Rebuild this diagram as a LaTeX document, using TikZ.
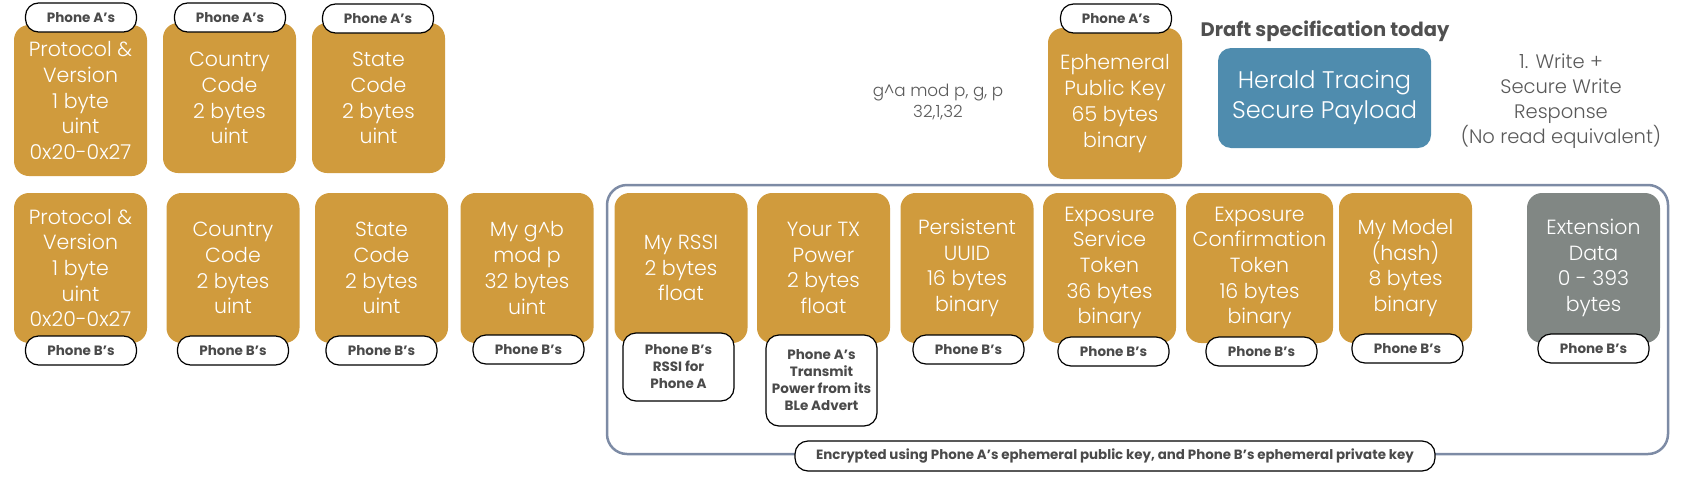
\documentclass[tikz,border=0pt]{standalone}
\usepackage{fontspec}
\setmainfont{Poppins}
\newfontfamily\lightfont{Poppins Light}
\usepackage{xcolor}
\definecolor{vgold}{HTML}{D09B3D}
\definecolor{vblue}{HTML}{4F8CAE}
\definecolor{vgrey}{HTML}{818784}
\definecolor{vslate}{HTML}{7D8BA5}
\definecolor{vdarkgray}{HTML}{4A4A4A}
\definecolor{vtextgray}{HTML}{595959}

\begin{document}
\begin{tikzpicture}[x=1pt, y=-1pt,
		field/.style={rectangle, rounded corners=15pt, fill=vgold, text=white, align=center, inner sep=0pt,
			minimum width=133pt, minimum height=150pt, font=\lightfont\fontsize{20.5}{25.7}\selectfont},
		owner/.style={rectangle, rounded corners=13pt, draw=black, line width=1.2pt, fill=white, text=vdarkgray,
			align=center, inner sep=0pt, minimum width=111pt, minimum height=29pt,
			font=\bfseries\fontsize{13.5}{17}\selectfont},
		note/.style={text=vtextgray, align=center, inner sep=0pt}]
		\useasboundingbox (0,0) rectangle (1686,477);
		% encrypted part
		\node[rectangle, rounded corners=20pt, draw=vslate, line width=2.5pt, minimum width=1061pt, minimum height=269pt] (enc) at (1137.5,319.5) {};
		% phone A row
		\node[field, minimum height=151pt] (protoA) at (80.5,100.5) {Protocol \&\\Version\\1 byte\\uint\\0x20-0x27};
		\node[field] (countryA) at (229.5,98) {Country\\Code\\2 bytes\\uint};
		\node[field] (stateA) at (378.5,98) {State\\Code\\2 bytes\\uint};
		\node[field, minimum width=134pt, minimum height=151pt] (ephA) at (1115,103.5) {Ephemeral\\Public Key\\65 bytes\\binary};
		\node[owner] (protoAlbl) at (81,17.5) {Phone A’s};
		\node[owner] (countryAlbl) at (230,17.5) {Phone A’s};
		\node[owner] (stateAlbl) at (378,18.5) {Phone A’s};
		\node[owner] (ephAlbl) at (1116,18.5) {Phone A’s};
		\node[note, font=\lightfont\fontsize{16.8}{21}\selectfont] (gamodp) at (938,102) {g\textasciicircum a mod p, g, p\\32,1,32};
		\node[text=vtextgray!90!black, inner sep=0pt, font=\bfseries\fontsize{19.5}{24}\selectfont] (draft) at (1325,31) {Draft specification today};
		\node[rectangle, rounded corners=13pt, fill=vblue, text=white, align=center, inner sep=0pt,
			minimum width=213pt, minimum height=100pt, font=\lightfont\fontsize{24}{30}\selectfont] (herald) at (1324.5,98) {Herald Tracing\\Secure Payload};
		\node[note, font=\lightfont\fontsize{19.5}{25}\selectfont] (write) at (1561,101.5) {1. Write +\\Secure Write\\Response\\(No read equivalent)};
		% phone B row
		\node[field] (protoB) at (80.5,268) {Protocol \&\\Version\\1 byte\\uint\\0x20-0x27};
		\node[field] (countryB) at (233,268) {Country\\Code\\2 bytes\\uint};
		\node[field] (stateB) at (381.5,268) {State\\Code\\2 bytes\\uint};
		\node[field] (gbB) at (527,268) {My g\textasciicircum b\\mod p\\32 bytes\\uint};
		\node[field] (rssi) at (681,268) {My RSSI\\2 bytes\\float};
		\node[field] (txpow) at (823.5,268) {Your TX\\Power\\2 bytes\\float};
		\node[field] (uuid) at (967,268) {Persistent\\UUID\\16 bytes\\binary};
		\node[field] (estok) at (1109.5,268) {Exposure\\Service\\Token\\36 bytes\\binary};
		\node[field, minimum width=147pt] (ectok) at (1259.5,268) {Exposure\\Confirmation\\Token\\16 bytes\\binary};
		\node[field] (model) at (1405.5,268) {My Model\\(hash)\\8 bytes\\binary};
		\node[field, fill=vgrey] (extdata) at (1593.5,268) {Extension\\Data\\0 - 393\\bytes};
		\node[owner] (protoBlbl) at (81,350.5) {Phone B’s};
		\node[owner] (countryBlbl) at (233,350.5) {Phone B’s};
		\node[owner] (stateBlbl) at (381.5,350.5) {Phone B’s};
		\node[owner] (gbBlbl) at (528.5,349.5) {Phone B’s};
		\node[owner, minimum height=68pt] (rssilbl) at (678.5,367) {Phone B’s\\RSSI for\\Phone A};
		\node[owner, minimum height=91pt] (txpowlbl) at (821.5,380.5) {Phone A’s\\Transmit\\Power from its\\BLe Advert};
		\node[owner] (uuidlbl) at (968.5,349.5) {Phone B’s};
		\node[owner] (estoklbl) at (1113.5,351.5) {Phone B’s};
		\node[owner] (ectoklbl) at (1261.5,351.5) {Phone B’s};
		\node[owner] (modellbl) at (1407.5,348.5) {Phone B’s};
		\node[owner] (extdatalbl) at (1593.5,348.5) {Phone B’s};
		\node[owner, minimum width=640pt, minimum height=30pt, font=\bfseries\fontsize{13.4}{17}\selectfont] (enclbl) at (1115,456)
			{Encrypted using Phone A’s ephemeral public key, and Phone B’s ephemeral private key};
	\end{tikzpicture}
\end{document}
